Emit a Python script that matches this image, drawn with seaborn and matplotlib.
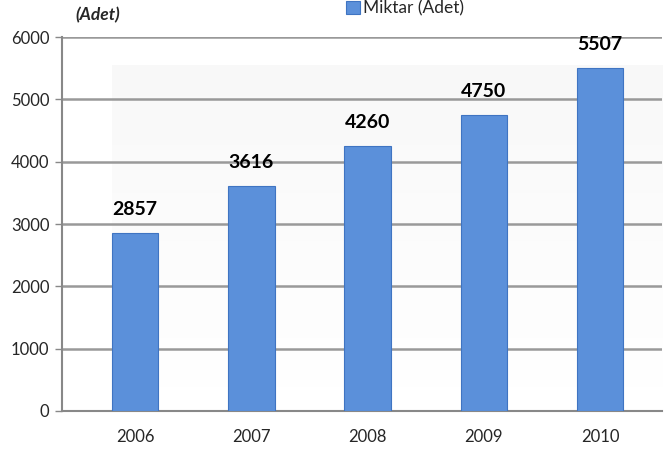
import numpy as np
import pandas as pd
import matplotlib.pyplot as plt
import seaborn as sns

sns.set_theme(style="white")
plt.rcParams['font.family'] = ['Lato', 'DejaVu Sans']

years = ['2006', '2007', '2008', '2009', '2010']
miktar = [2857, 3616, 4260, 4750, 5507]
y_ticks = [0, 1000, 2000, 3000, 4000, 5000, 6000]

df = pd.DataFrame({'Yil': years, 'Miktar (Adet)': miktar})

fig = plt.figure(figsize=(6.64, 4.51), dpi=100)
ax = fig.add_axes([0.0934, 0.0887, 0.9036, 0.829])

# light back wall like the excel 3d chart
grad = np.linspace(1, 0, 100).reshape(-1, 1)
ax.imshow(grad, cmap=plt.cm.Greys, vmin=0, vmax=18, aspect='auto',
          extent=[-0.2, 4.6, 0, 5550], zorder=0)

for t in y_ticks[1:]:
    ax.axhline(t, color='#999999', lw=1.8, zorder=1)

sns.barplot(data=df, x='Yil', y='Miktar (Adet)', color='#5b90da', width=0.4,
            edgecolor='#3f74c2', linewidth=0.8, saturation=1, ax=ax, zorder=3,
            label='Miktar (Adet)')

for i, v in enumerate(miktar):
    ax.text(i, v + 240, str(v), ha='center', va='bottom', fontsize=14,
            fontweight='bold', color='black', zorder=4)

ax.set_xlim(-0.628, 4.533)
ax.set_ylim(0, 6000)
ax.set_yticks(y_ticks)
ax.set_xlabel('')
ax.set_ylabel('')
ax.tick_params(axis='y', length=5, width=1, color='#888888', direction='out',
               labelsize=12, pad=4, left=True)
ax.tick_params(axis='x', length=0, labelsize=12, pad=13)
for s in ['top', 'right']:
    ax.spines[s].set_visible(False)
ax.spines['left'].set_color('#888888')
ax.spines['bottom'].set_color('#888888')
ax.spines['left'].set_linewidth(1.5)
ax.spines['bottom'].set_linewidth(1.5)

fig.text(0.113, 0.955, '(Adet)', fontsize=12.5, fontweight='bold', style='italic')
handles, labels = ax.get_legend_handles_labels()
if ax.get_legend() is not None:
    ax.get_legend().remove()
fig.legend(handles, labels, loc='center', bbox_to_anchor=(0.61, 0.982),
           frameon=False, fontsize=12.5, handlelength=0.8, handleheight=0.8,
           handletextpad=0.2, borderpad=0, borderaxespad=0)

fig.savefig('out.png', dpi=100)
